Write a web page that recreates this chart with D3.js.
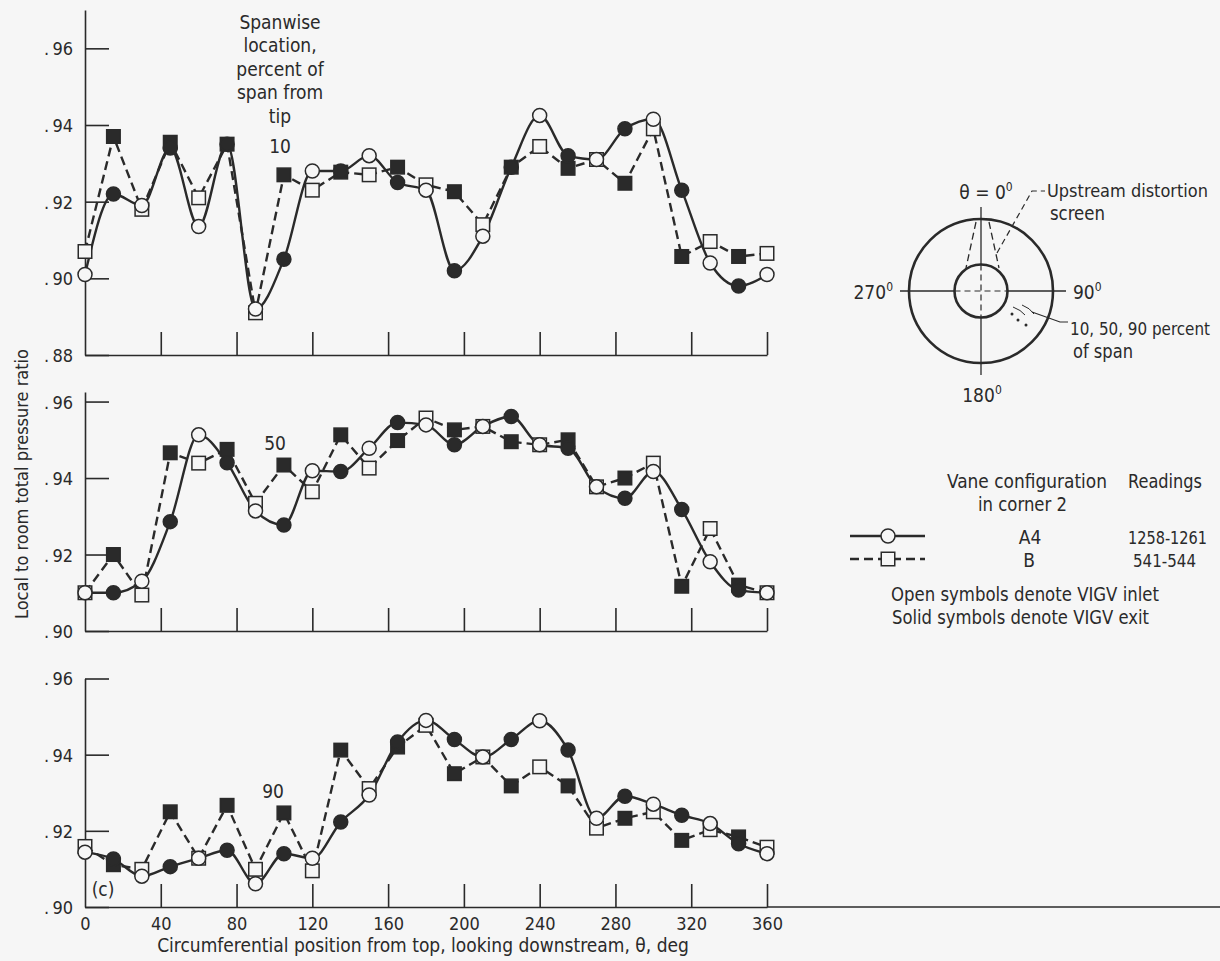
<!DOCTYPE html>
<html>
<head>
<meta charset="utf-8">
<script src="https://cdn.jsdelivr.net/npm/d3@7"></script>
<style>
  html, body { margin: 0; padding: 0; background: #f6f6f6; }
  svg { display: block; }
  text { font-family: "DejaVu Sans Condensed", "Liberation Sans Narrow", "Roboto Condensed", "DejaVu Sans", sans-serif; fill: #2a2a2a; }
</style>
</head>
<body>
<svg id="chart" width="1220" height="961"></svg>
<script>
// ---------------- data ----------------
const angles = d3.range(0, 361, 15); // circumferential positions, deg
const xTicks = [0, 40, 80, 120, 160, 200, 240, 280, 320, 360];

// 10 percent span
const a4Span10 = [.901, .922, .919, .934, .9135, .935, .892, .905, .928, .928, .932, .925, .923, .902, .911, .929, .9425, .932, .931, .939, .9415, .923, .904, .898, .901];
const bSpan10  = [.907, .937, .918, .9355, .921, .935, .891, .927, .923, .9277, .927, .929, .9244, .9226, .914, .929, .9344, .9287, .931, .9248, .939, .9057, .9096, .9057, .9065];
// 50 percent span
const a4Span50 = [.910, .910, .913, .9286, .9513, .944, .9314, .9277, .9419, .9417, .9478, .9545, .9539, .9487, .9535, .9561, .9487, .9478, .9377, .9347, .9417, .9318, .9181, .9107, .910];
const bSpan50  = [.910, .920, .9094, .9466, .9439, .9475, .9334, .9434, .9364, .9513, .9426, .9498, .9557, .9526, .9535, .9495, .9487, .950, .9377, .940, .9439, .9117, .9268, .912, .910];
// 90 percent span
const a4Span90 = [.9144, .9126, .9081, .9106, .9128, .9149, .9061, .914, .9128, .9223, .9294, .9433, .949, .944, .9394, .944, .9489, .9412, .9233, .9291, .927, .9241, .9219, .9166, .914];
const bSpan90  = [.9159, .9111, .9099, .925, .9128, .9267, .9099, .9247, .9095, .9412, .9311, .942, .9477, .935, .9394, .9318, .9368, .9318, .9207, .9233, .925, .9175, .9203, .9184, .9157];

const yTicks10 = [.88, .90, .92, .94, .96];
const yTicks50 = [.90, .92, .94, .96];
const yTicks90 = [.90, .92, .94, .96];

const ink = "#2a2a2a";
const bg = "#f6f6f6";
const FS = 19;   // text size
const TS = 18;   // tick label size

const svg = d3.select("#chart");
const x = d3.scaleLinear().domain([0, 360]).range([85, 767]);

const panels = [
  { a: a4Span10, b: bSpan10, domain: [.88, .97], range: [355, 10], ticks: yTicks10, label: "10", labelPos: [280, 153], xLabels: false },
  { a: a4Span50, b: bSpan50, domain: [.90, .9625], range: [631, 392], ticks: yTicks50, label: "50", labelPos: [275, 450], xLabels: false },
  { a: a4Span90, b: bSpan90, domain: [.90, .96], range: [907, 678.5], ticks: yTicks90, label: "90", labelPos: [273, 798], xLabels: true }
];

const fmtY = d => ".\u2009" + d3.format(".2f")(d).slice(2);

panels.forEach((p, i) => {
  const y = d3.scaleLinear().domain(p.domain).range(p.range);
  const g = svg.append("g");

  // y axis
  const yAxis = d3.axisLeft(y).tickValues(p.ticks).tickFormat(fmtY).tickSizeInner(-24).tickSizeOuter(0).tickPadding(12);
  const ya = g.append("g").attr("transform", "translate(85,0)").call(yAxis);
  ya.select(".domain").attr("stroke", ink).attr("stroke-width", 1.6);
  ya.selectAll(".tick line").attr("stroke", ink).attr("stroke-width", 1.6);
  ya.selectAll(".tick text").attr("font-size", TS).attr("font-family", null).style("fill", ink).attr("dy", "0.36em");

  // x axis
  const xAxis = d3.axisBottom(x).tickValues(xTicks).tickSizeInner(-23).tickSizeOuter(0).tickPadding(30)
    .tickFormat(d => p.xLabels ? d : "");
  const xa = g.append("g").attr("transform", `translate(0,${p.range[0]})`).call(xAxis);
  xa.select(".domain").attr("stroke", ink).attr("stroke-width", 1.6);
  xa.selectAll(".tick line").attr("stroke", ink).attr("stroke-width", 1.6)
    .attr("y2", d => d === 0 ? 0 : -23);
  xa.selectAll(".tick text").attr("font-size", TS).attr("font-family", null).style("fill", ink).attr("dy", "0").attr("y", 23);
  if (i === 2) {
    g.append("line").attr("x1", x(360)).attr("x2", 1220).attr("y1", p.range[0]).attr("y2", p.range[0])
      .attr("stroke", ink).attr("stroke-width", 1.6);
  }

  const lineA = d3.line().x((d, k) => x(angles[k])).y(d => y(d)).curve(d3.curveMonotoneX);
  const lineB = d3.line().x((d, k) => x(angles[k])).y(d => y(d));

  // B: dashed with squares
  g.append("path").datum(p.b).attr("d", lineB).attr("fill", "none").attr("stroke", ink)
    .attr("stroke-width", 2.4).attr("stroke-dasharray", "9,5");
  // A4: solid with circles
  g.append("path").datum(p.a).attr("d", lineA).attr("fill", "none").attr("stroke", ink)
    .attr("stroke-width", 2.4);

  const s = 13.5;
  g.selectAll(".sq").data(p.b).enter().append("rect")
    .attr("x", (d, k) => x(angles[k]) - s / 2).attr("y", d => y(d) - s / 2)
    .attr("width", s).attr("height", s)
    .attr("fill", (d, k) => k % 2 === 0 ? bg : ink)
    .attr("stroke", ink).attr("stroke-width", 1.5);
  g.selectAll(".ci").data(p.a).enter().append("circle")
    .attr("cx", (d, k) => x(angles[k])).attr("cy", d => y(d)).attr("r", 7)
    .attr("fill", (d, k) => k % 2 === 0 ? bg : ink)
    .attr("stroke", ink).attr("stroke-width", 1.5);

  g.append("text").attr("x", p.labelPos[0]).attr("y", p.labelPos[1]).attr("text-anchor", "middle")
    .attr("font-size", FS).text(p.label);
});

// spanwise header
const hdr = ["Spanwise", "location,", "percent of", "span from", "tip"];
svg.append("g").selectAll("text").data(hdr).enter().append("text")
  .attr("x", 280).attr("y", (d, k) => 29 + k * 23.4).attr("text-anchor", "middle")
  .attr("font-size", FS).text(d => d);

svg.append("text").attr("x", 103).attr("y", 896).attr("text-anchor", "middle").attr("font-size", FS).text("(c)");

// axis titles
svg.append("text").attr("x", 423).attr("y", 952).attr("text-anchor", "middle").attr("font-size", FS)
  .text("Circumferential position from top, looking downstream, θ, deg");
svg.append("text").attr("transform", "translate(28,484) rotate(-90)").attr("text-anchor", "middle").attr("font-size", 18)
  .text("Local to room total pressure ratio");

// helper: text fitted to a measured width
function fitText(xp, yp, str, w, fs) {
  return svg.append("text").attr("x", xp).attr("y", yp).attr("font-size", fs || FS)
    .attr("textLength", w).attr("lengthAdjust", "spacingAndGlyphs").text(str);
}

// ---------------- schematic ----------------
const cx = 981, cy = 291, R = 72, r = 26.5;
const sch = svg.append("g").attr("stroke", ink).attr("fill", "none");
sch.append("circle").attr("cx", cx).attr("cy", cy).attr("r", R).attr("stroke-width", 2.6);
sch.append("circle").attr("cx", cx).attr("cy", cy).attr("r", r).attr("stroke-width", 2.6);
// cross lines
sch.append("line").attr("x1", 900).attr("x2", cx - r).attr("y1", cy).attr("y2", cy).attr("stroke-width", 1.3);
sch.append("line").attr("x1", cx + r).attr("x2", 1066).attr("y1", cy).attr("y2", cy).attr("stroke-width", 1.3);
sch.append("line").attr("x1", cx - r).attr("x2", cx + r).attr("y1", cy).attr("y2", cy).attr("stroke-width", 1.2).attr("stroke-dasharray", "6,4");
sch.append("line").attr("x1", cx).attr("x2", cx).attr("y1", 207).attr("y2", cy - r).attr("stroke-width", 1.3);
sch.append("line").attr("x1", cx).attr("x2", cx).attr("y1", cy + r).attr("y2", 375).attr("stroke-width", 1.3);
sch.append("line").attr("x1", cx).attr("x2", cx).attr("y1", cy - r).attr("y2", cy + r).attr("stroke-width", 1.2).attr("stroke-dasharray", "6,4");
// distortion screen sector
sch.append("line").attr("x1", 976).attr("y1", 222).attr("x2", 966).attr("y2", 268).attr("stroke-width", 1.3).attr("stroke-dasharray", "7,4");
sch.append("line").attr("x1", 989).attr("y1", 222).attr("x2", 999).attr("y2", 268).attr("stroke-width", 1.3).attr("stroke-dasharray", "7,4");
// leader to "Upstream distortion screen"
sch.append("path").attr("d", "M997,253 L1032,191 L1045,191").attr("stroke-width", 1.2).attr("stroke-dasharray", "6,4");
// probe marks and leader
sch.append("path").attr("d", "M1013,307 q8,3 12,8 M1022,305 q8,3 12,9").attr("stroke-width", 1);
sch.append("path").attr("d", "M1032,312 L1060,322 L1068,322").attr("stroke-width", 1.2);
[[1012, 314], [1018, 320], [1026, 325]].forEach(pt =>
  svg.append("circle").attr("cx", pt[0]).attr("cy", pt[1]).attr("r", 1.5).attr("fill", ink));

function degText(xp, yp, main, anchor) {
  const t = svg.append("text").attr("x", xp).attr("y", yp).attr("font-size", FS).attr("text-anchor", anchor || "start");
  t.append("tspan").text(main);
  t.append("tspan").attr("dy", -8).attr("font-size", 12).text("0");
  return t;
}
degText(986, 199, "θ = 0", "middle");
degText(893, 299, "270", "end");
degText(1073, 299, "90", "start");
degText(982, 402, "180", "middle");
fitText(1047, 197, "Upstream distortion", 161, 18);
fitText(1050, 220, "screen", 55);
fitText(1070, 335, "10, 50, 90 percent", 140, 17.5);
fitText(1073, 358, "of span", 60);

// ---------------- legend ----------------
const lg = svg.append("g");
fitText(947, 488, "Vane configuration", 160);
fitText(978, 511, "in corner 2", 89);
fitText(1128, 488, "Readings", 74);
lg.append("line").attr("x1", 850).attr("x2", 925).attr("y1", 536).attr("y2", 536).attr("stroke", ink).attr("stroke-width", 2.4);
lg.append("circle").attr("cx", 888).attr("cy", 536).attr("r", 7).attr("fill", bg).attr("stroke", ink).attr("stroke-width", 1.5);
lg.append("line").attr("x1", 850).attr("x2", 925).attr("y1", 559).attr("y2", 559).attr("stroke", ink).attr("stroke-width", 2.4).attr("stroke-dasharray", "9,5");
lg.append("rect").attr("x", 881.25).attr("y", 552.25).attr("width", 13.5).attr("height", 13.5).attr("fill", bg).attr("stroke", ink).attr("stroke-width", 1.5);
lg.append("text").attr("x", 1030).attr("y", 544).attr("text-anchor", "middle").attr("font-size", FS).text("A4");
lg.append("text").attr("x", 1029).attr("y", 567).attr("text-anchor", "middle").attr("font-size", FS).text("B");
fitText(1128, 544, "1258-1261", 79, 17);
fitText(1133, 567, "541-544", 63, 17.5);
fitText(891, 601, "Open symbols denote VIGV inlet", 268);
fitText(892, 624, "Solid symbols denote VIGV exit", 257);
</script>
</body>
</html>
